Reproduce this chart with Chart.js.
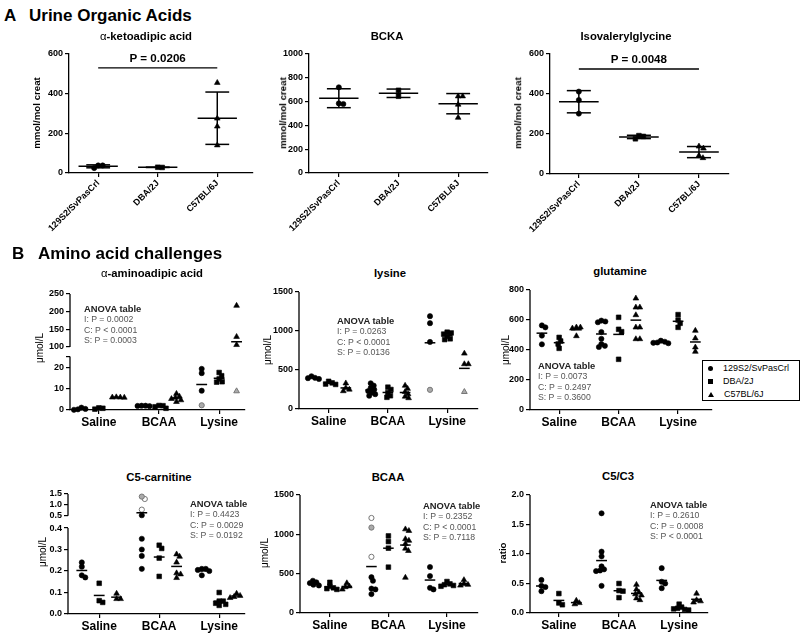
<!DOCTYPE html>
<html>
<head>
<meta charset="utf-8">
<title>Urine organic acids and amino acid challenges</title>
<script src="https://cdn.jsdelivr.net/npm/chart.js@4.4.1/dist/chart.umd.min.js"></script>
<style>
  html, body { margin: 0; background: #fff; }
  #fig { position: relative; width: 800px; height: 634px; overflow: hidden;
         font-family: "Liberation Sans", Arial, Helvetica, sans-serif; color: #000; }
  #fig canvas { position: absolute; }
  .txt { position: absolute; white-space: nowrap; line-height: 1; }
  .head { font-size: 17px; font-weight: bold; }
  .title { font-size: 11.3px; font-weight: bold; transform: translate(-50%, -50%); }
  .title i { font-style: normal; font-weight: normal; }
  .ylab { font-size: 10px; transform: translate(-50%, -50%) rotate(-90deg); }
  .ylab.b { font-weight: bold; font-size: 9.7px; }
  .anova { font-size: 8.7px; line-height: 10.4px; color: #555; }
  .anova b { font-size: 9.4px; color: #222; }
  .pval { font-size: 11.6px; font-weight: bold; transform: translate(-50%, -50%); }
  #legend { left: 702px; top: 360px; width: 98px; height: 41px; box-sizing: border-box;
            border: 1px solid #000; padding: 1px 0 0 5px; font-size: 9px; line-height: 13px; background: #fff; }
  .mk { display: inline-block; margin-right: 10px; vertical-align: middle; background: #000; width: 5px; height: 5px; }
  .mk.c { border-radius: 50%; }
  .mk.t { width: 0; height: 0; background: none; border-left: 3px solid transparent;
          border-right: 3px solid transparent; border-bottom: 5px solid #000; }
</style>
</head>
<body>
<div id="fig"></div>
<script>
// ---------- data ----------
const strains = ['129S2/SvPasCrl', 'DBA/2J', 'C57BL/6J'];
const groups = ['Saline', 'BCAA', 'Lysine'];

// A: urine organic acids (mmol/mol creat), one list per strain
const ketoadipic = [[38, 25, 38], [28, 29], [455, 275, 235, 140]];
const bcka = [[720, 580, 585], [645, 695], [645, 645, 575, 465]];
const isovalerylglycine = [[412, 370, 302], [176, 192, 188], [138, 128, 92, 80]];
const ketoadipicSig = {from: 0, to: 2, at: 530, text: 'P = 0.0206'};
const isovalerylSig = {from: 0, to: 2, at: 525, text: 'P = 0.0048'};

// B: amino acid challenges, [group][strain] lists; grey symbols listed apart
const aad = [
  [[0.3, 0.1, 0.5, 1.1], [0.4, 1.0, 0.8], [5.8, 5.9, 6.0, 5.9]],
  [[1.8, 2.0, 2.0, 1.9], [2.0, 1.5, 0.8, 2.1], [3.8, 4.6, 5.2, 5.8, 6.3, 7.6]],
  [[17.2, 19.2, 9.0], [17.5, 16.0, 14.5, 13.0, 13.2], [217, 129, 106]]
];
const aadGray = [{g: 2, s: 0, v: 2.2, open: false}, {g: 2, s: 2, v: 8.8, open: false}];
const aadAnova = ['I: P = 0.0002', 'C: P < 0.0001', 'S: P = 0.0003'];

const lys = [
  [[420, 400, 385, 395], [355, 335, 315, 320], [330, 270, 230, 250]],
  [[330, 300, 270, 250, 230, 210, 190, 170], [280, 250, 210, 170, 150], [300, 260, 220, 190, 160, 140]],
  [[1190, 1100, 860], [985, 975, 960, 930, 900, 890], [712, 576, 576]]
];
const lysGray = [{g: 2, s: 0, v: 246, open: false}, {g: 2, s: 2, v: 220, open: false}];
const lysAnova = ['I: P = 0.0263', 'C: P < 0.0001', 'S: P = 0.0136'];

const gln = [
  [[551, 564, 496, 438], [484, 411, 440, 460], [551, 493, 544, 551]],
  [[590, 585, 596, 520, 475, 440, 428, 420], [618, 538, 522, 338], [744, 684, 684, 633, 551, 551, 473, 473]],
  [[462, 455, 450, 445, 448], [636, 551, 600, 578], [529, 478, 389, 418]]
];
const glnAnova = ['I: P = 0.0073', 'C: P = 0.2497', 'S: P = 0.3600'];

const c5 = [
  [[0.24, 0.22, 0.17, 0.18], [0.143, 0.054, 0.062], [0.07, 0.095, 0.07]],
  [[0.52, 0.35, 0.30, 0.27, 0.21], [0.305, 0.32, 0.175, 0.26], [0.267, 0.278, 0.24, 0.19, 0.185, 0.168]],
  [[0.21, 0.205, 0.2, 0.18, 0.21], [0.1, 0.06, 0.05, 0.045, 0.04, 0.06], [0.095, 0.08, 0.075, 0.085]]
];
const c5Gray = [{g: 1, s: 0, v: 1.38, open: false}, {g: 1, s: 0, v: 1.27, open: true}, {g: 1, s: 0, v: 0.78, open: true}];
const c5Anova = ['I: P = 0.4423', 'C: P = 0.0029', 'S: P = 0.0192'];

const bcaa = [
  [[410, 380, 360, 350, 390], [390, 340, 310, 300, 320], [380, 340, 300, 330]],
  [[455, 410, 310, 300, 240], [980, 908, 824, 583], [1065, 1045, 940, 920, 880, 820, 790, 450]],
  [[585, 470, 320, 300], [400, 370, 350, 340, 360], [420, 370, 350, 360]]
];
const bcaaGray = [{g: 1, s: 0, v: 1208, open: true}, {g: 1, s: 0, v: 1086, open: false}, {g: 1, s: 0, v: 714, open: true}];
const bcaaAnova = ['I: P = 0.2352', 'C: P < 0.0001', 'S: P = 0.7118'];

const c5c3 = [
  [[0.56, 0.46, 0.44, 0.37], [0.33, 0.14, 0.17], [0.21, 0.17, 0.15]],
  [[1.69, 1.04, 0.96, 0.79, 0.74, 0.71, 0.72, 0.46], [0.5, 0.26, 0.37, 0.38], [0.48, 0.4, 0.35, 0.32, 0.3, 0.25, 0.22]],
  [[0.76, 0.53, 0.5, 0.42], [0.15, 0.1, 0.07, 0.06, 0.05, 0.08], [0.33, 0.22, 0.18, 0.2]]
];
const c5c3Anova = ['I: P = 0.2610', 'C: P = 0.0008', 'S: P < 0.0001'];

// ---------- drawing ----------
Chart.defaults.font.family = '"Liberation Sans", Arial, Helvetica, sans-serif';
const fig = document.getElementById('fig');
const YW = 40, TP = 8, RP = 6;
const shapes = ['circle', 'rect', 'triangle'];
const radii = [2.6, 3.3, 3.3];
const strainOffset = [-0.29, 0, 0.29];
const SPREAD = 3.8; // px between neighbouring symbols in a cluster

function addText(cls, html, left, top) {
  const d = document.createElement('div');
  d.className = 'txt ' + cls;
  d.innerHTML = html;
  d.style.left = left + 'px';
  d.style.top = top + 'px';
  fig.appendChild(d);
  return d;
}

function makeCanvas(geo, xh) {
  const L = Math.round(geo.axisX) - YW, T = Math.round(geo.top) - TP;
  const c = document.createElement('canvas');
  c.width = Math.round(geo.right) - L + RP;
  c.height = Math.round(geo.bottom) - T + xh;
  c.style.left = L + 'px';
  c.style.top = T + 'px';
  fig.appendChild(c);
  return {c, L, T};
}

function pointStyle(s, kind) {
  return {
    pointStyle: shapes[s], pointRadius: radii[s], pointHoverRadius: radii[s],
    pointBackgroundColor: kind === 'fill' ? '#ababab' : kind === 'open' ? '#fff' : '#000',
    pointBorderColor: kind ? '#777' : '#000',
    pointBorderWidth: kind ? 1 : 0.6,
    showLine: false, order: 1, clip: false
  };
}
const lineStyle = {showLine: true, pointRadius: 0, pointHoverRadius: 0, borderColor: '#000', borderWidth: 1.5, order: 0};

// y axis line drawn per segment so a broken axis shows its gap
function axisLines(segs) {
  return {
    id: 'axisLines',
    beforeDatasetsDraw(chart) {
      const ctx = chart.ctx, x = chart.chartArea.left;
      ctx.save();
      ctx.strokeStyle = '#000';
      ctx.lineWidth = 1.3;
      segs.forEach(sg => {
        const sc = chart.scales[sg.id];
        ctx.beginPath();
        ctx.moveTo(x, sc.getPixelForValue(sg.line[0]));
        ctx.lineTo(x, sc.getPixelForValue(sg.line[1]));
        ctx.stroke();
      });
      ctx.restore();
    }
  };
}

// spread points of one cluster sideways so they do not sit on top of each other
function swarm(chart, clusters, d) {
  const xs = chart.scales.x;
  clusters.forEach(cl => {
    const pts = cl.map(r => {
      const ds = chart.data.datasets[r.ds], p = ds.data[r.i];
      const ys = chart.scales[ds.yAxisID || 'y'];
      return {p, py: ys.getPixelForValue(p.y), px0: xs.getPixelForValue(p.cx)};
    }).sort((a, b) => a.py - b.py);
    const placed = [];
    pts.forEach(pt => {
      let off = 0;
      for (let k = 0; k < 200; k++) {
        const cand = (k % 2 ? 1 : -1) * Math.ceil(k / 2) * 0.5;
        if (placed.every(q => Math.hypot(q.dx - cand, q.py - pt.py) >= d)) { off = cand; break; }
      }
      placed.push({dx: off, py: pt.py});
      pt.p.x = xs.getValueForPixel(pt.px0 + off);
    });
  });
  chart.update('none');
}

const tickFont = {size: 9, weight: 'bold'};
const gridStyle = {drawOnChartArea: false, tickLength: 4, color: '#000', lineWidth: 1.2};

function yScale(seg, stacked) {
  return {
    type: 'linear', position: 'left', min: seg.min, max: seg.max,
    stack: stacked ? 'v' : undefined, stackWeight: seg.weight || 1, weight: seg.layer || 0,
    afterBuildTicks: sc => { sc.ticks = seg.ticks.map(v => ({value: v})); },
    afterFit: sc => { sc.width = YW; },
    ticks: {autoSkip: false, padding: 2, color: '#000', font: tickFont, callback: v => seg.fmt(v)},
    grid: gridStyle,
    border: {display: false}
  };
}

function groupXScale(geo) {
  return {
    type: 'linear', min: geo.xmin, max: geo.xmax,
    afterBuildTicks: sc => { sc.ticks = [1, 2, 3].map(v => ({value: v})); },
    afterFit: sc => { sc.height = 24; },
    ticks: {autoSkip: false, maxRotation: 0, padding: 1, color: '#000', font: {size: 12, weight: 'bold'},
            callback: v => groups[v - 1]},
    grid: gridStyle,
    border: {color: '#000', width: 1.3}
  };
}

function baseOptions(scales) {
  return {
    responsive: false, animation: false, events: [],
    layout: {padding: {left: 0, top: TP, right: RP, bottom: 0}},
    plugins: {legend: {display: false}, tooltip: {enabled: false}},
    scales
  };
}

function dotPlot(geo, values, gray, segs) {
  const {c} = makeCanvas(geo, 24);
  const broken = segs.length > 1;
  const segFor = v => (broken && v > segs[0].max) ? segs[1] : segs[0];
  const datasets = [], clusters = [], dsIndex = {};
  const dsFor = (key, seg, style) => {
    if (!(key in dsIndex)) {
      dsIndex[key] = datasets.length;
      datasets.push(Object.assign({yAxisID: seg.id, data: []}, style));
    }
    return dsIndex[key];
  };
  values.forEach((row, g) => row.forEach((vals, s) => {
    const cx = g + 1 + strainOffset[s];
    const pts = vals.map(v => ({v, kind: ''}))
      .concat(gray.filter(p => p.g === g && p.s === s).map(p => ({v: p.v, kind: p.open ? 'open' : 'fill'})));
    const cluster = [];
    pts.forEach(p => {
      const seg = segFor(p.v);
      const di = dsFor(s + seg.id + p.kind, seg, pointStyle(s, p.kind));
      datasets[di].data.push({x: cx, y: p.v, cx});
      cluster.push({ds: di, i: datasets[di].data.length - 1});
    });
    clusters.push(cluster);
    const m = pts.reduce((a, p) => a + p.v, 0) / pts.length;
    datasets.push(Object.assign({yAxisID: segFor(m).id, data: [{x: cx - 0.09, y: m}, {x: cx + 0.09, y: m}]}, lineStyle));
  }));
  const scales = {x: groupXScale(geo)};
  segs.forEach(sg => { scales[sg.id] = yScale(sg, broken); });
  const chart = new Chart(c, {type: 'scatter', data: {datasets}, options: baseOptions(scales), plugins: [axisLines(segs)]});
  swarm(chart, clusters, SPREAD);
  return chart;
}

function errorPlot(geo, lists, yMax, sig) {
  const {c, L, T} = makeCanvas(geo, 70);
  const datasets = [], clusters = [];
  const seg = (a, b, w) => datasets.push(Object.assign({data: [{x: a[0], y: a[1]}, {x: b[0], y: b[1]}]}, lineStyle, {borderWidth: w || 1.5}));
  lists.forEach((vals, s) => {
    datasets.push(Object.assign({data: vals.map(v => ({x: s, y: v, cx: s}))}, pointStyle(s, '')));
    clusters.push(vals.map((v, i) => ({ds: datasets.length - 1, i})));
  });
  lists.forEach((vals, s) => {
    const m = vals.reduce((a, v) => a + v, 0) / vals.length;
    const sd = Math.sqrt(vals.reduce((a, v) => a + (v - m) * (v - m), 0) / (vals.length - 1));
    seg([s - 0.33, m], [s + 0.33, m]);
    seg([s, m - sd], [s, m + sd]);
    seg([s - 0.2, m - sd], [s + 0.2, m - sd]);
    seg([s - 0.2, m + sd], [s + 0.2, m + sd]);
  });
  if (sig) seg([sig.from, sig.at], [sig.to, sig.at], 1.3);
  const scales = {
    x: {
      type: 'linear', min: geo.xmin, max: geo.xmax,
      afterBuildTicks: sc => { sc.ticks = [0, 1, 2].map(v => ({value: v})); },
      afterFit: sc => { sc.height = 70; },
      ticks: {autoSkip: false, minRotation: 45, maxRotation: 45, padding: 1, color: '#000', font: tickFont,
              callback: v => strains[v]},
      grid: gridStyle,
      border: {color: '#000', width: 1.3}
    },
    y: {
      type: 'linear', min: 0, max: yMax,
      afterFit: sc => { sc.width = YW; },
      ticks: {stepSize: 200, padding: 2, color: '#000', font: tickFont, callback: v => String(v)},
      grid: gridStyle,
      border: {color: '#000', width: 1.3}
    }
  };
  const chart = new Chart(c, {type: 'scatter', data: {datasets}, options: baseOptions(scales)});
  swarm(chart, clusters, SPREAD + 0.7);
  if (sig) {
    const xs = chart.scales.x, ys = chart.scales.y;
    addText('pval', sig.text, L + (xs.getPixelForValue(sig.from) + xs.getPixelForValue(sig.to)) / 2,
            T + ys.getPixelForValue(sig.at) - 10);
  }
  return chart;
}

function anova(lines, left, top) {
  addText('anova', '<b>ANOVA table</b><br>' + lines.join('<br>'), left, top);
}

// ---------- panel A ----------
addText('head', 'A', 4, 7);
addText('head', 'Urine Organic Acids', 29, 7);

errorPlot({axisX: 69, right: 253, top: 54, bottom: 173, xmin: -0.49, xmax: 2.6}, ketoadipic, 600, ketoadipicSig);
errorPlot({axisX: 309, right: 488, top: 54, bottom: 173, xmin: -0.5, xmax: 2.5}, bcka, 1000, null);
errorPlot({axisX: 550, right: 729, top: 54, bottom: 174, xmin: -0.48, xmax: 2.5}, isovalerylglycine, 600, isovalerylSig);

addText('title', '<i>α</i>-ketoadipic acid', 146, 37);
addText('title', 'BCKA', 387, 37);
addText('title', 'Isovalerylglycine', 626, 37);
addText('ylab b', 'mmol/mol creat', 37, 113);
addText('ylab b', 'mmol/mol creat', 283, 113);
addText('ylab b', 'mmol/mol creat', 518, 113);

// ---------- panel B ----------
addText('head', 'B', 12, 245);
addText('head', 'Amino acid challenges', 38, 245);

const whole = v => String(v);
const oneDec = v => v.toFixed(1);

dotPlot({axisX: 70, right: 245, top: 294, bottom: 410, xmin: 0.52, xmax: 3.43}, aad, aadGray, [
  {id: 'y', min: 0, max: 27.3, ticks: [0, 10, 20, 25], line: [0, 25], weight: 58.5, layer: 0, fmt: v => v === 25 ? '' : String(v)},
  {id: 'y2', min: 87.3, max: 250, ticks: [100, 150, 200, 250], line: [100, 250], weight: 57.5, layer: 1, fmt: whole}
]);
dotPlot({axisX: 299, right: 478, top: 292, bottom: 409, xmin: 0.5, xmax: 3.52}, lys, lysGray, [
  {id: 'y', min: 0, max: 1500, ticks: [0, 500, 1000, 1500], line: [0, 1500], fmt: whole}
]);
dotPlot({axisX: 530, right: 712, top: 290, bottom: 410, xmin: 0.51, xmax: 3.57}, gln, [], [
  {id: 'y', min: 0, max: 800, ticks: [0, 200, 400, 600, 800], line: [0, 800], fmt: whole}
]);
dotPlot({axisX: 68, right: 245, top: 494, bottom: 614, xmin: 0.48, xmax: 3.43}, c5, c5Gray, [
  {id: 'y', min: 0, max: 0.428, ticks: [0, 0.1, 0.2, 0.3, 0.4], line: [0, 0.4], weight: 92, layer: 0, fmt: oneDec},
  {id: 'y2', min: 0.21, max: 1.5, ticks: [0.5, 1.0, 1.5], line: [0.5, 1.5], weight: 28, layer: 1, fmt: oneDec}
]);
dotPlot({axisX: 300, right: 478, top: 495, bottom: 613, xmin: 0.49, xmax: 3.53}, bcaa, bcaaGray, [
  {id: 'y', min: 0, max: 1500, ticks: [0, 500, 1000, 1500], line: [0, 1500], fmt: whole}
]);
dotPlot({axisX: 530, right: 708, top: 495, bottom: 613, xmin: 0.52, xmax: 3.48}, c5c3, [], [
  {id: 'y', min: 0, max: 2, ticks: [0, 0.5, 1, 1.5, 2], line: [0, 2], fmt: oneDec}
]);

addText('title', '<i>α</i>-aminoadipic acid', 152, 274);
addText('title', 'lysine', 390, 274);
addText('title', 'glutamine', 620, 272);
addText('title', 'C5-carnitine', 159, 478);
addText('title', 'BCAA', 388, 478);
addText('title', 'C5/C3', 618, 477);

addText('ylab', 'μmol/L', 40, 348);
addText('ylab', 'μmol/L', 268, 350);
addText('ylab', 'μmol/L', 506, 350);
addText('ylab', 'μmol/L', 43, 552);
addText('ylab', 'μmol/L', 265, 553);
addText('ylab b', 'ratio', 503, 553);

anova(aadAnova, 84, 304);
anova(lysAnova, 337, 316);
anova(glnAnova, 538, 361);
anova(c5Anova, 190, 499);
anova(bcaaAnova, 423, 501);
anova(c5c3Anova, 650, 500);

const legend = addText('', strains.map((s, i) =>
  '<div><span class="mk ' + ['c', 's', 't'][i] + '"></span>' + s + '</div>').join(''), 702, 360);
legend.id = 'legend';
</script>
</body>
</html>
